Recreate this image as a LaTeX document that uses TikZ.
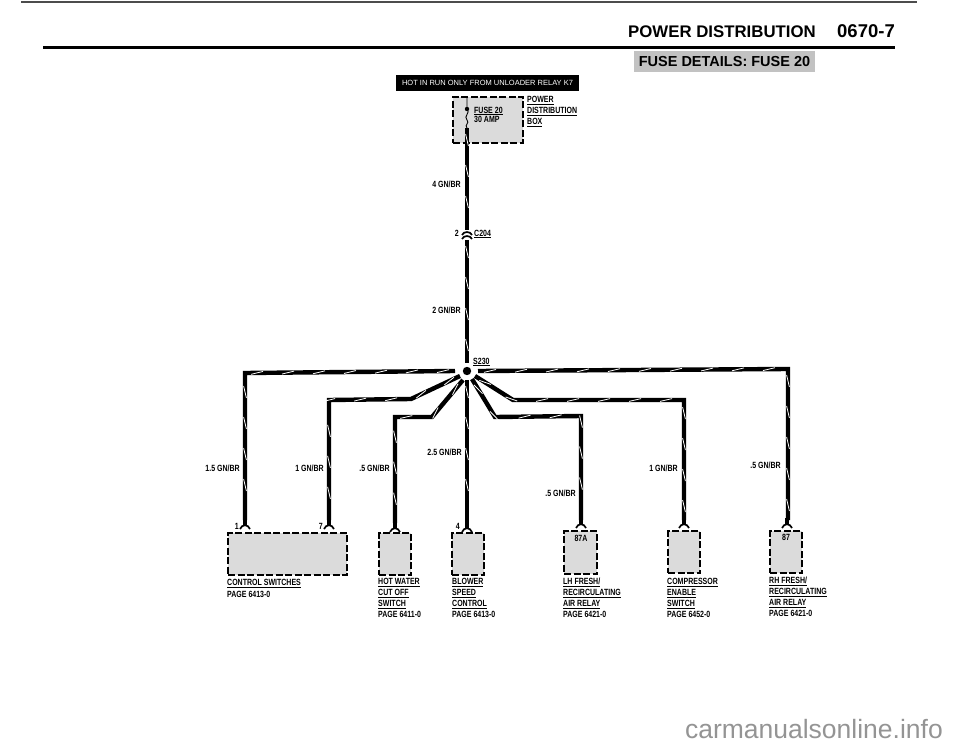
\documentclass[tikz,border=0pt]{standalone}
\usepackage{fontspec}
\setmainfont{Liberation Sans}
\newfontfamily\narrowfamily[FakeStretch=0.78]{Liberation Sans}
\usetikzlibrary{decorations.markings}
\newcommand{\labelfont}{\narrowfamily\bfseries\fontsize{9}{10.9}\selectfont}
\tikzset{
    wire/.style={line width=4.4pt,line join=miter,postaction={decorate,decoration={markings,
        mark=between positions 12pt and -8pt step 31pt with {\draw[white,line width=0.8pt] (-6pt,-1.4pt) -- (6pt,1.4pt);}}}},
    thinwire/.style={line width=0.9pt},
    partbox/.style={draw,fill=black!14,line width=1.6pt,dash pattern=on 7pt off 2.5pt,inner sep=0pt},
    pin/.style={line width=1.7pt},
    wirelabel/.style={font=\labelfont,left,inner sep=0pt},
    partlabel/.style={font=\labelfont,right,align=left,inner sep=0pt,anchor=north west}
}
\begin{document}
\begin{tikzpicture}[x=1pt,y=-1pt]
    \useasboundingbox (0,0) rectangle (960,746);

    % header
    \draw[line width=1.4pt,black!70] (21,2) -- (917,2);
    \draw[line width=2.2pt] (43,47.5) -- (895,47.5);
    \node[anchor=base west,inner sep=0pt,font=\bfseries\fontsize{16.8}{18}\selectfont] (title) at (628,38) {POWER DISTRIBUTION};
    \node[anchor=base east,inner sep=0pt,font=\bfseries\fontsize{18.5}{18}\selectfont] (pagenum) at (895,38) {0670-7};
    \node[anchor=center,fill=black!24,minimum width=181pt,minimum height=21pt,inner sep=0pt,font=\bfseries\fontsize{14.5}{16}\selectfont] (details) at (724.5,61.5) {FUSE DETAILS: FUSE 20};
    \node[anchor=center,fill=black,text=white,minimum width=183pt,minimum height=16pt,inner sep=0pt,font=\fontsize{7.5}{9}\selectfont] (hot) at (487.5,83) {HOT IN RUN ONLY FROM UNLOADER RELAY K7};

    % fuse box
    \node[partbox,minimum width=70pt,minimum height=46pt] (fusebox) at (488,120) {};
    \coordinate (fusetop) at (467,97);
    \coordinate (fusedot) at (467,109);
    \coordinate (fuseend) at (467,128);
    \coordinate (c204top) at (467,230);
    \coordinate (c204bot) at (467,240);
    \coordinate (s230) at (467,371);
    \draw[thinwire] (fusetop) -- (fusedot) .. controls (471,113) and (463,116) .. (467,120) .. controls (470,123) and (464,125) .. (fuseend);
    \fill (fusedot) circle (2.2);
    \draw[wire] (fuseend) -- (c204top);
    \draw[pin] (462,235) .. controls (464,231) and (470,231) .. (472,235);
    \draw[pin] (462,239) .. controls (464,235) and (470,235) .. (472,239);
    \draw[wire] (c204bot) -- (467,363);

    % wires out of the splice
    \draw[wire] (455,371) -- (245,373) -- (245,520);
    \draw[wire] (460,376) -- (411,399) -- (329,400) -- (329,520);
    \draw[wire] (463,380) -- (432,417) -- (395,417) -- (395,523);
    \draw[wire] (467,380) -- (467,523);
    \draw[wire] (472,379) -- (495,417) -- (581,416) -- (581,520);
    \draw[wire] (475,376) -- (513,400) -- (684,400) -- (684,520);
    \draw[wire] (478,371) -- (788,369) -- (788,520);
    \fill (s230) circle (4.2);

    % pins
    \foreach \px/\py in {245/527,329/527,395/530,467/530,581/526,684/526,787/526}{
        \draw[line width=3.4pt] (\px,\py-8) -- (\px,\py-2);
        \draw[pin] (\px-5,\py+2) .. controls (\px-3,\py-3) and (\px+3,\py-3) .. (\px+5,\py+2);
    }

    % parts
    \node[partbox,minimum width=119pt,minimum height=42pt] (switches) at (287.5,554) {};
    \node[partbox,minimum width=32pt,minimum height=42pt] (hotwater) at (395,554) {};
    \node[partbox,minimum width=32pt,minimum height=42pt] (blower) at (468,554) {};
    \node[partbox,minimum width=33pt,minimum height=43pt] (lhrelay) at (580.5,552.5) {};
    \node[partbox,minimum width=32pt,minimum height=42pt] (compressor) at (684,552) {};
    \node[partbox,minimum width=32pt,minimum height=42pt] (rhrelay) at (786,552) {};

    % labels
    \node[partlabel] (boxlabel) at (527,96) {\underline{POWER}\\\underline{DISTRIBUTION}\\\underline{BOX}};
    \node[font=\labelfont,right,inner sep=0pt] (fuselabel) at (474,111) {\underline{FUSE 20}};
    \node[font=\labelfont,right,inner sep=0pt] (amplabel) at (474,119) {30 AMP};
    \node[wirelabel] (wa) at (461,184) {4 GN/BR};
    \node[wirelabel] (c204pin) at (459,233) {2};
    \node[font=\labelfont,right,inner sep=0pt] (c204) at (474,234) {\underline{C204}};
    \node[wirelabel] (wb) at (461,310) {2 GN/BR};
    \node[font=\labelfont,right,inner sep=0pt] (s230label) at (473,362) {\underline{S230}};
    \node[wirelabel] (wc) at (240,468) {1.5 GN/BR};
    \node[wirelabel] (wd) at (324,468) {1 GN/BR};
    \node[wirelabel] (we) at (390,468) {.5 GN/BR};
    \node[wirelabel] (wf) at (462,452) {2.5 GN/BR};
    \node[wirelabel] (wg) at (576,493) {.5 GN/BR};
    \node[wirelabel] (wh) at (678,468) {1 GN/BR};
    \node[wirelabel] (wi) at (781,465) {.5 GN/BR};
    \node[wirelabel] (pina) at (239,526) {1};
    \node[wirelabel] (pinb) at (323,526) {7};
    \node[wirelabel] (pinc) at (460,526) {4};
    \node[font=\labelfont] (pind) at (581,538) {87A};
    \node[font=\labelfont] (pine) at (786,537) {87};
    \node[partlabel] (la) at (227,579) {\underline{CONTROL SWITCHES}\\[1pt]PAGE 6413-0};
    \node[partlabel] (lb) at (378,578) {\underline{HOT WATER}\\\underline{CUT OFF}\\\underline{SWITCH}\\PAGE 6411-0};
    \node[partlabel] (lc) at (452,578) {\underline{BLOWER}\\\underline{SPEED}\\\underline{CONTROL}\\PAGE 6413-0};
    \node[partlabel] (ld) at (563,578) {\underline{LH FRESH/}\\\underline{RECIRCULATING}\\\underline{AIR RELAY}\\PAGE 6421-0};
    \node[partlabel] (le) at (667,578) {\underline{COMPRESSOR}\\\underline{ENABLE}\\\underline{SWITCH}\\PAGE 6452-0};
    \node[partlabel] (lf) at (769,577) {\underline{RH FRESH/}\\\underline{RECIRCULATING}\\\underline{AIR RELAY}\\PAGE 6421-0};

    % watermark
    \node[anchor=base east,inner sep=0pt,text=black!42,font=\fontsize{26.5}{30}\selectfont] (site) at (943,738) {carmanualsonline.info};
\end{tikzpicture}
\end{document}
